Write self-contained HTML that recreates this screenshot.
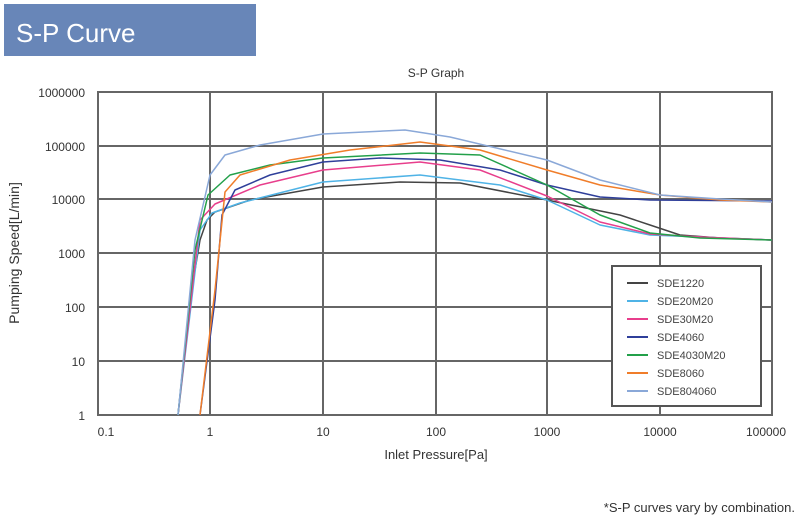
<!DOCTYPE html>
<html><head><style>
body{margin:0;background:#fff;width:800px;height:521px;overflow:hidden;font-family:"Liberation Sans",sans-serif;}
</style></head><body>
<svg width="800" height="521" xmlns="http://www.w3.org/2000/svg" font-family="Liberation Sans, sans-serif">
<rect x="4" y="4" width="252" height="52" fill="#6886b8"/>
<text x="16" y="42" font-size="26" fill="#fff">S-P Curve</text>
<text x="436" y="77" font-size="12" fill="#333" text-anchor="middle">S-P Graph</text>
<g stroke="#666" stroke-width="2" fill="none">
<rect x="98" y="92" width="674" height="323"/>
<path d="M210 92V415M323 92V415M436 92V415M547 92V415M660 92V415"/>
<path d="M98 146H772M98 199H772M98 253H772M98 307H772M98 361H772"/>
</g>
<g font-size="12" fill="#333" text-anchor="end">
<text x="85" y="97">1000000</text><text x="85" y="151">100000</text><text x="85" y="204">10000</text>
<text x="85" y="258">1000</text><text x="85" y="312">100</text><text x="85" y="366">10</text><text x="85" y="420">1</text>
</g>
<g font-size="12" fill="#333" text-anchor="middle">
<text x="106" y="436">0.1</text><text x="210" y="436">1</text><text x="323" y="436">10</text><text x="436" y="436">100</text>
<text x="547" y="436">1000</text><text x="660" y="436">10000</text><text x="766" y="436">100000</text>
<text x="436" y="459" font-size="13">Inlet Pressure[Pa]</text>
</g>
<text transform="translate(19,253) rotate(-90)" font-size="14" fill="#333" text-anchor="middle">Pumping Speed[L/min]</text>
<g fill="none" stroke-width="1.5" stroke-linejoin="round">
<polyline stroke="#444" points="178,415 190,300 200,240 207,220 215,212 250,200 323,187 400,182 460,183 547,200 620,215 650,225 680,235 720,238 772,240"/>
<polyline stroke="#4fb3e6" points="178,415 200,230 212,213 240,203 323,182 420,175 500,185 547,200 600,225 650,235 700,237 772,240"/>
<polyline stroke="#e83e8c" points="178,415 200,220 215,204 260,185 323,170 420,162 480,170 547,196 600,222 650,234 700,237 772,240"/>
<polyline stroke="#2f3f9a" points="200,415 215,300 222,215 235,190 270,175 323,162 380,158 440,160 500,170 547,185 600,197 650,200 772,201"/>
<polyline stroke="#23a04a" points="178,415 195,250 208,195 230,175 270,165 323,158 420,153 480,155 547,185 600,215 650,233 700,238 772,240"/>
<polyline stroke="#f07d2a" points="200,415 215,290 225,192 240,175 290,160 350,150 420,142 480,150 547,170 600,185 660,195 720,200 772,202"/>
<polyline stroke="#8aa8d8" points="178,415 195,240 210,175 225,155 260,145 323,134 405,130 450,137 547,160 600,180 660,195 720,199 772,202"/>
</g>
<rect x="612" y="266" width="149" height="140" fill="#fff" stroke="#555" stroke-width="2"/>
<g stroke-width="2">
<line x1="627" y1="283" x2="648" y2="283" stroke="#444"/>
<line x1="627" y1="301" x2="648" y2="301" stroke="#4fb3e6"/>
<line x1="627" y1="319" x2="648" y2="319" stroke="#e83e8c"/>
<line x1="627" y1="337" x2="648" y2="337" stroke="#2f3f9a"/>
<line x1="627" y1="355" x2="648" y2="355" stroke="#23a04a"/>
<line x1="627" y1="373" x2="648" y2="373" stroke="#f07d2a"/>
<line x1="627" y1="391" x2="648" y2="391" stroke="#8aa8d8"/>
</g>
<g font-size="11" fill="#444">
<text x="657" y="287">SDE1220</text><text x="657" y="305">SDE20M20</text><text x="657" y="323">SDE30M20</text>
<text x="657" y="341">SDE4060</text><text x="657" y="359">SDE4030M20</text><text x="657" y="377">SDE8060</text><text x="657" y="395">SDE804060</text>
</g>
<text x="795" y="512" font-size="13" fill="#333" text-anchor="end">*S-P curves vary by combination.</text>
</svg>
</body></html>
